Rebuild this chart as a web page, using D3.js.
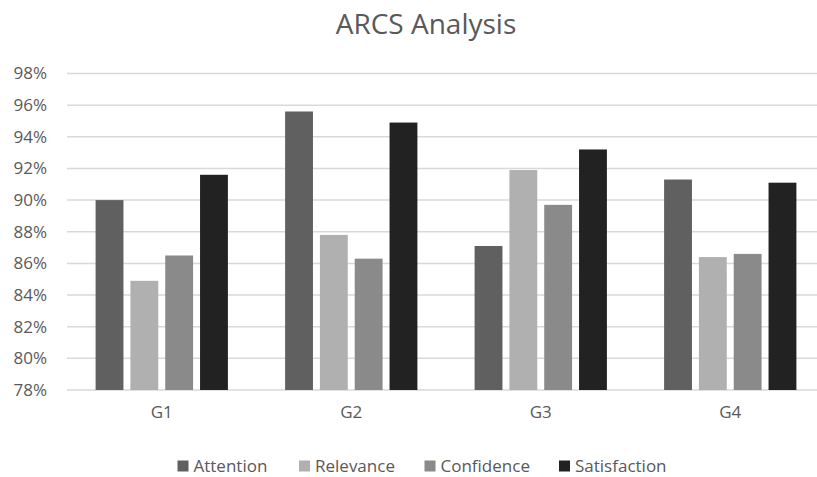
<!DOCTYPE html>
<html>
<head>
<meta charset="utf-8">
<script src="https://cdn.jsdelivr.net/npm/d3@7"></script>
<style>
  html, body { margin: 0; padding: 0; background: #fff; }
  svg { display: block; font-family: "Open Sans", sans-serif; }
</style>
</head>
<body>
<div id="chart"></div>
<script>
// Grouped column chart, greyscale, Excel style

const groups = ["G1", "G2", "G3", "G4"];
const seriesNames = ["Attention", "Relevance", "Confidence", "Satisfaction"];
const attention    = [90.0, 95.6, 87.1, 91.3];
const relevance    = [84.9, 87.8, 91.9, 86.4];
const confidence   = [86.5, 86.3, 89.7, 86.6];
const satisfaction = [91.6, 94.9, 93.2, 91.1];
const yTicks = [78, 80, 82, 84, 86, 88, 90, 92, 94, 96, 98];

const colors = ["#606060", "#b0b0b0", "#8a8a8a", "#222222"];

const width = 817, height = 477;
const plot = { left: 67, right: 825, top: 73.5, bottom: 390 };

const svg = d3.select("#chart").append("svg")
  .attr("width", width)
  .attr("height", height);

// title
svg.append("text")
  .attr("x", 426)
  .attr("y", 34)
  .attr("text-anchor", "middle")
  .attr("font-size", "28px")
  .attr("fill", "#595959")
  .text("ARCS Analysis");

const y = d3.scaleLinear().domain([78, 98]).range([plot.bottom, plot.top]);
const x0 = d3.scaleBand().domain(groups).range([plot.left, plot.right]);
const x1 = d3.scaleBand().domain(seriesNames)
  .range([28.6, x0.bandwidth() - 28.6])
  .paddingInner(0.2);

// gridlines
svg.append("g")
  .selectAll("line")
  .data(yTicks)
  .join("line")
    .attr("x1", plot.left)
    .attr("x2", plot.right)
    .attr("y1", d => y(d))
    .attr("y2", d => y(d))
    .attr("stroke", "#d9d9d9")
    .attr("stroke-width", 1.5);

// y axis labels
const yAxis = svg.append("g")
  .attr("transform", `translate(${plot.left - 20},0)`)
  .call(d3.axisLeft(y).tickValues(yTicks).tickSize(0).tickFormat(d => d + "%"));
yAxis.select(".domain").remove();
yAxis.selectAll("text")
  .attr("font-family", "Open Sans, sans-serif")
  .attr("font-size", "17px")
  .attr("fill", "#595959")
  .attr("x", 0);

// x axis labels
const xAxis = svg.append("g")
  .attr("transform", `translate(0,${plot.bottom + 13})`)
  .call(d3.axisBottom(x0).tickSize(0));
xAxis.select(".domain").remove();
xAxis.selectAll("text")
  .attr("font-family", "Open Sans, sans-serif")
  .attr("font-size", "17px")
  .attr("fill", "#595959");

// bars
const table = groups.map((g, i) => ({
  group: g,
  values: [attention[i], relevance[i], confidence[i], satisfaction[i]]
}));

svg.append("g")
  .selectAll("g")
  .data(table)
  .join("g")
    .attr("transform", d => `translate(${x0(d.group)},0)`)
  .selectAll("rect")
  .data(d => d.values.map((v, j) => ({ key: seriesNames[j], value: v, j })))
  .join("rect")
    .attr("x", d => x1(d.key))
    .attr("width", x1.bandwidth())
    .attr("y", d => y(d.value))
    .attr("height", d => y(78) - y(d.value))
    .attr("fill", d => colors[d.j]);

// legend
const legendX = [177.5, 299, 424.5, 559];
const legend = svg.append("g");
const items = legend.selectAll("g")
  .data(seriesNames)
  .join("g")
    .attr("transform", (d, i) => `translate(${legendX[i]},466)`);
items.append("rect")
  .attr("x", 0)
  .attr("y", -5.5)
  .attr("width", 11)
  .attr("height", 11)
  .attr("fill", (d, i) => colors[i]);
items.append("text")
  .attr("x", 16)
  .attr("y", 6)
  .attr("font-size", "17px")
  .attr("fill", "#595959")
  .text(d => d);
</script>
</body>
</html>
